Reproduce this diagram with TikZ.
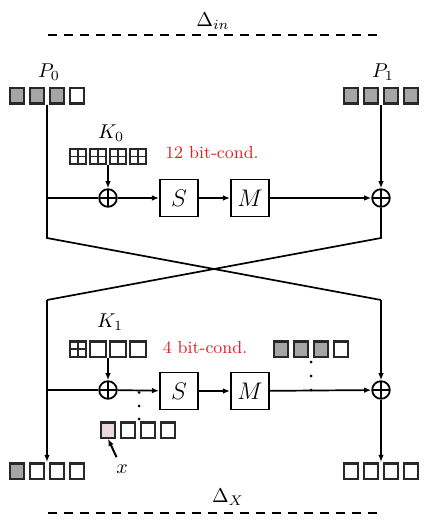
\documentclass[tikz,border=0pt]{standalone}
\usetikzlibrary{arrows.meta}
\definecolor{sqgray}{RGB}{165,165,165}
\definecolor{sqpink}{RGB}{236,216,220}
\definecolor{sqline}{RGB}{40,40,40}
\definecolor{condred}{RGB}{232,30,36}
\begin{document}
\begin{tikzpicture}[x=0.5pt,y=-0.5pt,
  font=\fontsize{10}{12}\selectfont,
  line width=0.85pt,
  sq/.style={draw=sqline,line width=1.1pt,minimum width=7.3pt,minimum height=7.6pt,inner sep=0pt,fill=white},
  gsq/.style={sq,fill=sqgray},
  psq/.style={sq,fill=sqpink},
  ksq/.style={sq,minimum width=8pt,path picture={\draw[line width=0.7pt,draw=sqline] (path picture bounding box.north)--(path picture bounding box.south) (path picture bounding box.west)--(path picture bounding box.east);}},
  box/.style={draw,line width=0.9pt,minimum width=19pt,minimum height=18.5pt,inner sep=0pt,font=\fontsize{12.5}{14}\selectfont},
  xorn/.style={circle,draw,line width=0.9pt,minimum size=8.8pt,inner sep=0pt,path picture={\draw[line width=0.9pt] (path picture bounding box.north)--(path picture bounding box.south) (path picture bounding box.west)--(path picture bounding box.east);}},
  arr/.style={-{Latex[length=3.6pt,width=2.8pt]}},
  dotn/.style={circle,fill,inner sep=0pt,minimum size=1.5pt},
  cond/.style={text=condred,font=\fontsize{8.7}{10}\selectfont},
  sepline/.style={dash pattern=on 4.5pt off 3.5pt,line width=0.9pt}
]
\useasboundingbox (0,0) rectangle (424,528);

% top difference
\node (din) at (213,21) {$\Delta_{in}$};
\coordinate (dl1) at (48,35); \coordinate (dr1) at (382,35);
\draw[sepline] (dl1) -- (dr1);

% plaintext halves
\node (p0) at (49,72) {$P_0$};
\node (p1) at (383,72) {$P_1$};
\foreach \i/\st in {0/gsq,1/gsq,2/gsq,3/sq}
  \node[\st] (p0s\i) at ({17+20*\i},96) {};
\foreach \i in {0,1,2,3}
  \node[gsq] (p1s\i) at ({351+20*\i},96) {};

% column coordinates
\coordinate (lt) at (47,105);
\coordinate (rt) at (381,105);
\coordinate (lm1) at (47,198);
\coordinate (lc1) at (47,238);
\coordinate (rc1) at (381,238);
\coordinate (lc2) at (47,300);
\coordinate (rc2) at (381,300);
\coordinate (lm2) at (47,390);
\coordinate (lb) at (47,462);
\coordinate (rb) at (381,462);

% round 1
\node (k0) at (111,133) {$K_0$};
\foreach \i in {0,1,2,3}
  \node[ksq] (k0s\i) at ({78+20*\i},156.5) {};
\coordinate (k0o) at (108,165);
\node[cond] (c12) at (212,153) {12 bit-cond.};
\node[xorn] (x1) at (108,198) {};
\node[box] (s1) at (179,198) {$S$};
\node[box] (m1) at (250,198) {$M$};
\node[xorn] (x1r) at (381,198) {};

\draw[arr] (k0o) -- (x1);
\draw (lm1) -- (x1);
\draw[arr] (x1) -- (s1);
\draw[arr] (s1) -- (m1);
\draw[arr] (m1) -- (x1r);
\draw[arr] (rt) -- (x1r);

% swap
\draw (lt) -- (lc1) -- (rc2);
\draw (x1r) -- (rc1) -- (lc2);

% round 2
\node (k1) at (110,322) {$K_1$};
\node[ksq] (k1s0) at (78,349) {};
\foreach \i in {1,2,3}
  \node[sq,minimum width=8pt] (k1s\i) at ({78+20*\i},349) {};
\coordinate (k1o) at (108,358);
\node[cond] (c4) at (205,348) {4 bit-cond.};
\foreach \i/\st in {0/gsq,1/gsq,2/gsq,3/sq}
  \node[\st] (gs\i) at ({281+20*\i},349) {};
\node[dotn] (d1) at (311,362) {};
\node[dotn] (d2) at (311,376) {};
\node[dotn] (d3) at (311,390) {};

\node[xorn] (x2) at (108,390) {};
\node[box] (s2) at (179,391) {$S$};
\node[box] (m2) at (250,391) {$M$};
\node[xorn] (x2r) at (381,390) {};

\node[dotn] (e1) at (139,392.5) {};
\node[dotn] (e2) at (139,406) {};
\node[dotn] (e3) at (139,419) {};

\foreach \i/\st in {0/psq,1/sq,2/sq,3/sq}
  \node[\st] (xs\i) at ({108+20*\i},430) {};
\node (xl) at (122,469) {$x$};
\draw[arr,line width=1pt] (xl) -- (xs0.south);

\draw[arr] (k1o) -- (x2);
\draw (lm2) -- (x2);
\draw[arr] (x2) -- (s2);
\draw[arr] (s2) -- (m2);
\draw[arr] (m2) -- (x2r);
\draw[arr] (rc2) -- (x2r);
\draw[arr] (x2r) -- (rb);
\draw[arr] (lc2) -- (lb);

% output halves
\foreach \i/\st in {0/gsq,1/sq,2/sq,3/sq}
  \node[\st] (o0s\i) at ({17+20*\i},471) {};
\foreach \i in {0,1,2,3}
  \node[sq] (o1s\i) at ({351+20*\i},471) {};

% bottom difference
\node (dx) at (228,497) {$\Delta_X$};
\coordinate (dl2) at (48,513); \coordinate (dr2) at (382,513);
\draw[sepline] (dl2) -- (dr2);
\end{tikzpicture}
\end{document}
